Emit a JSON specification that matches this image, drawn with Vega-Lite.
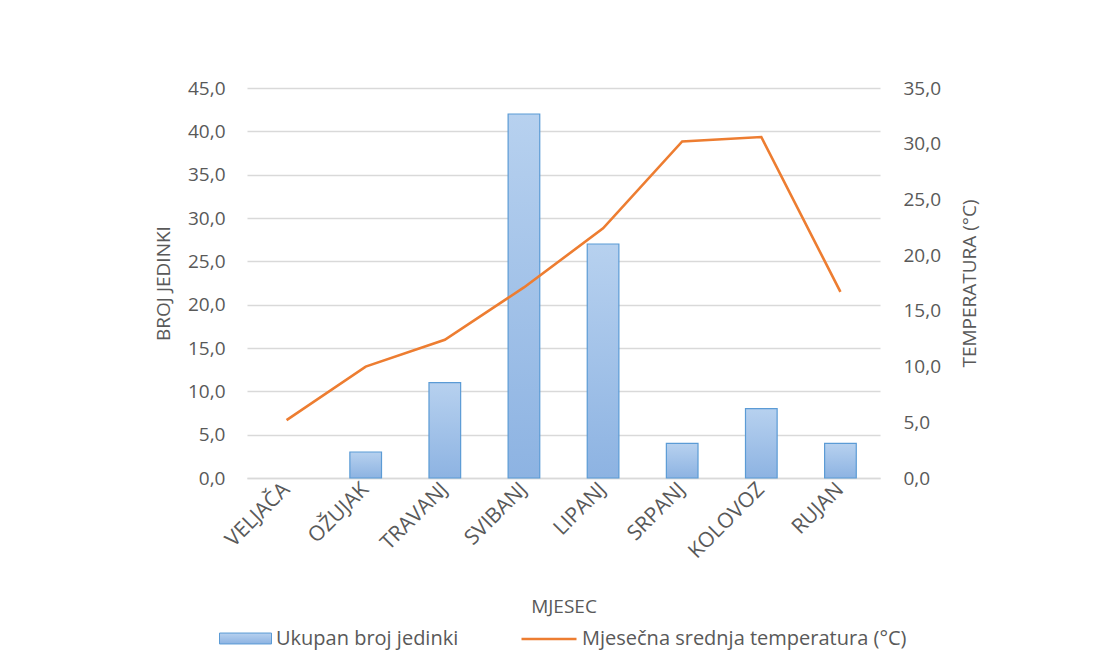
{
  "$schema": "https://vega.github.io/schema/vega-lite/v6.json",
  "width": 633,
  "height": 390,
  "autosize": {"type": "none"},
  "padding": {"left": 247, "top": 88, "right": 227, "bottom": 194},
  "background": "white",
  "config": {
    "locale": {"number": {"decimal": ",", "thousands": ".", "grouping": [3], "currency": ["", " €"]}},
    "font": "Open Sans",
    "view": {"stroke": null},
    "axis": {"labelColor": "#595959", "titleColor": "#595959", "labelFont": "Open Sans", "titleFont": "Open Sans", "labelFontSize": 19, "titleFontSize": 19, "titleFontWeight": "normal"},
    "legend": {"labelFont": "Open Sans", "labelFontSize": 20, "labelColor": "#595959", "labelLimit": 600}
  },
  "data": {"values": [
    {"mjesec": "VELJAČA", "broj": 0, "temp": 5.2},
    {"mjesec": "OŽUJAK", "broj": 3, "temp": 10.0},
    {"mjesec": "TRAVANJ", "broj": 11, "temp": 12.4},
    {"mjesec": "SVIBANJ", "broj": 42, "temp": 17.1},
    {"mjesec": "LIPANJ", "broj": 27, "temp": 22.4},
    {"mjesec": "SRPANJ", "broj": 4, "temp": 30.2},
    {"mjesec": "KOLOVOZ", "broj": 8, "temp": 30.6},
    {"mjesec": "RUJAN", "broj": 4, "temp": 16.7}
  ]},
  "encoding": {
    "x": {
      "field": "mjesec", "type": "nominal",
      "sort": ["VELJAČA", "OŽUJAK", "TRAVANJ", "SVIBANJ", "LIPANJ", "SRPANJ", "KOLOVOZ", "RUJAN"],
      "scale": {"paddingInner": 0.6, "paddingOuter": 0.3},
      "axis": {"title": "MJESEC", "labelAngle": -45, "labelAlign": "right", "labelBaseline": "middle", "labelPadding": 8, "labelFontSize": 21, "ticks": false, "domainColor": "#D9D9D9", "domainWidth": 1.5, "titlePadding": 36}
    }
  },
  "layer": [
    {
      "transform": [{"filter": "datum.broj > 0"}],
      "mark": {"type": "bar", "strokeWidth": 1.2, "fill": {"gradient": "linear", "x1": 0, "y1": 0, "x2": 0, "y2": 1, "stops": [{"offset": 0, "color": "#B7D1EF"}, {"offset": 1, "color": "#8DB3E2"}]}},
      "encoding": {
        "y": {"field": "broj", "type": "quantitative",
          "scale": {"domain": [0, 45]},
          "axis": {"title": "BROJ JEDINKI", "format": ".1f", "values": [0,5,10,15,20,25,30,35,40,45], "grid": true, "gridColor": "#D9D9D9", "gridWidth": 1.5, "domain": false, "ticks": false, "labelPadding": 22, "titlePadding": 14}},
        "stroke": {"datum": "Ukupan broj jedinki", "type": "nominal",
          "scale": {"range": ["#5B9BD5"]},
          "legend": {"title": null, "orient": "none", "legendX": -28, "legendY": 524, "symbolType": "M-1,-0.21L1,-0.21L1,0.21L-1,0.21Z", "symbolSize": 2704, "symbolStrokeWidth": 1, "symbolFillColor": "#A3C3E9", "symbolOpacity": 1, "labelOffset": 4,
            "encode": {"symbols": {"update": {"fill": {"value": {"gradient": "linear", "x1": 0, "y1": 0, "x2": 0, "y2": 1, "stops": [{"offset": 0, "color": "#B7D1EF"}, {"offset": 1, "color": "#8DB3E2"}]}}}}}}}
      }
    },
    {
      "mark": {"type": "line", "strokeWidth": 2.6},
      "encoding": {
        "y": {"field": "temp", "type": "quantitative",
          "scale": {"domain": [0, 35]},
          "axis": {"title": "TEMPERATURA (°C)", "orient": "right", "format": ".1f", "values": [0,5,10,15,20,25,30,35], "grid": false, "domain": false, "ticks": false, "labelPadding": 23, "titlePadding": 39, "titleAngle": 270}},
        "stroke": {"datum": "Mjesečna srednja temperatura (°C)", "type": "nominal",
          "scale": {"range": ["#ED7D31"]},
          "legend": {"title": null, "orient": "none", "legendX": 273, "legendY": 522, "symbolType": "stroke", "symbolSize": 3025, "symbolStrokeWidth": 2.6, "labelOffset": 4}}
      }
    }
  ],
  "resolve": {"scale": {"y": "independent", "stroke": "independent"}, "legend": {"stroke": "independent"}}
}
